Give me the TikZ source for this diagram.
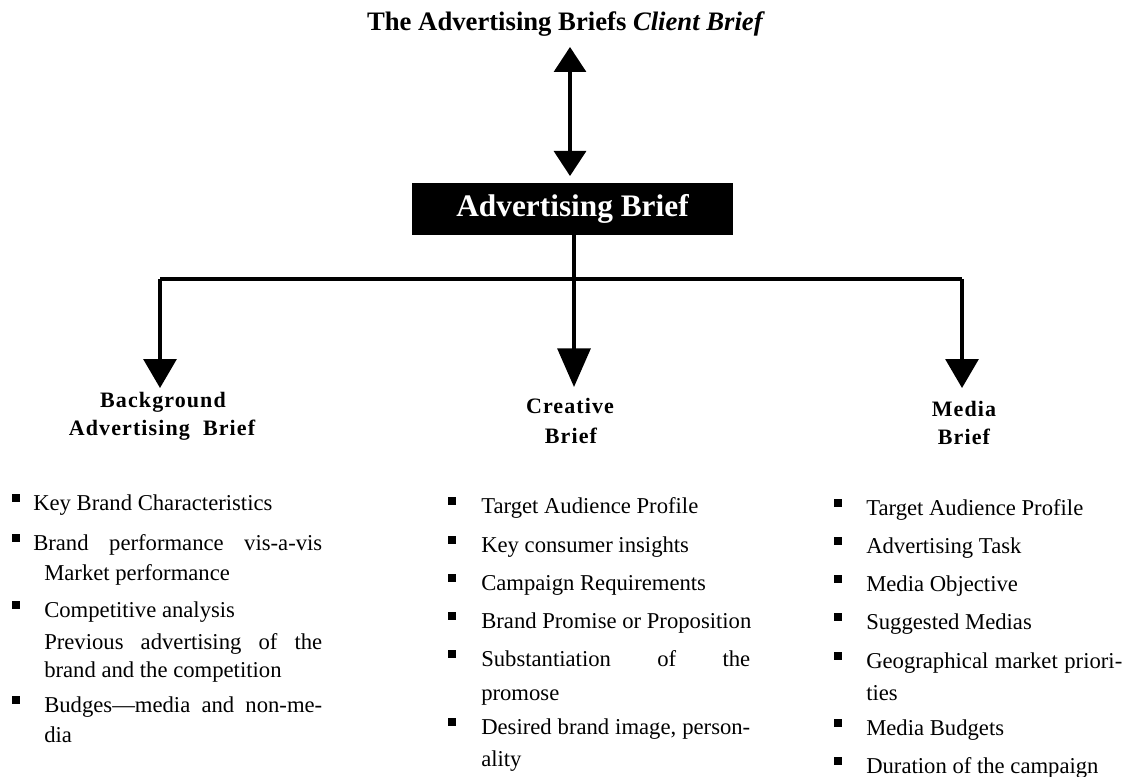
\documentclass[tikz,border=0pt]{standalone}
\usepackage{fontspec}
\setmainfont{Liberation Serif}
\newfontfamily\hdfont[LetterSpace=5]{Liberation Serif}
\usetikzlibrary{arrows.meta}
\newcommand{\bsq}[2]{\fill (#1-4,#2-16) rectangle (#1+4,#2-8);}
\newcommand{\jbox}[2]{\makebox[\dimexpr #1pt*3/4\relax][s]{#2}}
\begin{document}
\begin{tikzpicture}[x=0.75pt,y=-0.75pt,
  txt/.style={anchor=base west, inner sep=0pt, font=\fontsize{17}{20}\selectfont},
  hd/.style={anchor=base, inner sep=0pt, font=\hdfont\bfseries\fontsize{16.5}{20}\selectfont},
  conn/.style={line width=2.4pt},
  dtip/.style={-{Triangle[width=24.75pt,length=21.75pt]}},
  ctip/.style={-{Triangle[width=24.75pt,length=29pt]}},
  boxnode/.style={fill=black, text=white, inner sep=0pt, minimum width=240.75pt, minimum height=39pt, font=\bfseries\fontsize{23.5}{27}\selectfont}]
\useasboundingbox (0,0) rectangle (1130,777);

% title and main box
\node[anchor=base, inner sep=0pt, font=\bfseries\fontsize{20}{24}\selectfont] (title) at (566,31) {The Advertising Briefs \textit{Client Brief}};
\node[boxnode] (ab) at (572.5,209) {Advertising Brief};

% double arrow
\coordinate (dt) at (570,47);
\coordinate (db) at (570,176);
\draw[conn, {Triangle[width=24pt,length=18.75pt]}-{Triangle[width=24pt,length=18.75pt]}] (dt) -- (db);

% tree connectors
\coordinate (abs) at (574,235);
\coordinate (lt) at (160,279);
\coordinate (rt) at (962,279);
\coordinate (bgtip) at (160,388);
\coordinate (crtip) at (574,387);
\coordinate (metip) at (962,388);
\draw[conn] (lt) -- (rt);
\draw[conn, dtip] (lt) -- (bgtip);
\draw[conn, dtip] (rt) -- (metip);
\draw[conn, ctip] (abs) -- (crtip);

% headers
\node[hd] (bgh1) at (163,407) {Background};
\node[hd] (bgh2) at (162,435) {Advertising\hspace{0.3em} Brief};
\node[hd] (crh1) at (570,413) {Creative};
\node[hd] (crh2) at (571,443) {Brief};
\node[hd] (meh1) at (964,416) {Media};
\node[hd] (meh2) at (964,444) {Brief};

% background column
\bsq{15.5}{510}
\node[txt] (bg1) at (33,510) {Key Brand Characteristics};
\bsq{15.5}{550}
\node[txt] (bg2) at (33,550) {\jbox{289}{Brand performance vis-a-vis}};
\node[txt] (bg2b) at (44,580) {Market performance};
\bsq{15.5}{617}
\node[txt] (bg3) at (44,617) {Competitive analysis};
\node[txt] (bg3b) at (44,649) {\jbox{278}{Previous advertising of the}};
\node[txt] (bg3c) at (44,677) {brand and the competition};
\bsq{15.5}{712}
\node[txt] (bg4) at (44,712) {\jbox{278}{Budges---media and non-me-}};
\node[txt] (bg4b) at (44,742) {dia};

% creative column
\bsq{452}{513}
\node[txt] (cr1) at (481,513) {Target Audience Profile};
\bsq{452}{552}
\node[txt] (cr2) at (481,552) {Key consumer insights};
\bsq{452}{590}
\node[txt] (cr3) at (481,590) {Campaign Requirements};
\bsq{452}{628}
\node[txt] (cr4) at (481,628) {Brand Promise or Proposition};
\bsq{452}{666}
\node[txt] (cr5) at (481,666) {\jbox{269}{Substantiation of the}};
\node[txt] (cr5b) at (481,700) {promose};
\bsq{452}{734}
\node[txt] (cr6) at (481,734) {\jbox{269}{Desired brand image, person-}};
\node[txt] (cr6b) at (481,766) {ality};

% media column
\bsq{838}{515}
\node[txt] (me1) at (866,515) {Target Audience Profile};
\bsq{838}{553}
\node[txt] (me2) at (866,553) {Advertising Task};
\bsq{838}{591}
\node[txt] (me3) at (866,591) {Media Objective};
\bsq{838}{629}
\node[txt] (me4) at (866,629) {Suggested Medias};
\bsq{838}{668}
\node[txt] (me5) at (866,668) {\jbox{256}{Geographical market priori-}};
\node[txt] (me5b) at (866,700) {ties};
\bsq{838}{735}
\node[txt] (me6) at (866,735) {Media Budgets};
\bsq{838}{773}
\node[txt] (me7) at (866,773) {Duration of the campaign};
\end{tikzpicture}
\end{document}
